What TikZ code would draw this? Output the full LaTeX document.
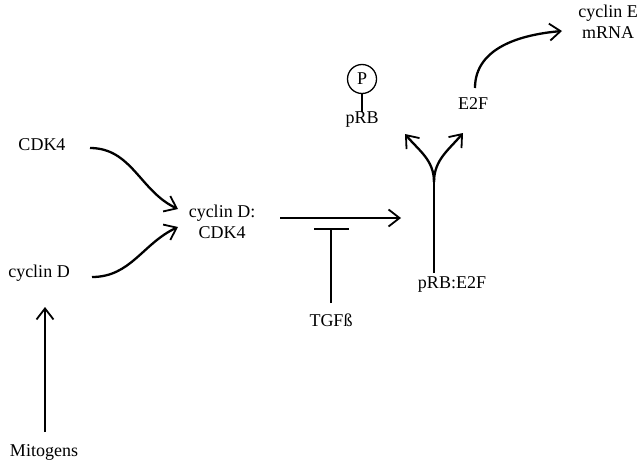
\documentclass[tikz,border=0pt]{standalone}
\usepackage{fontspec}
\setmainfont{Liberation Serif}
\usetikzlibrary{arrows.meta}
\begin{document}
\begin{tikzpicture}[x=1pt,y=-1pt,
  lbl/.style={inner sep=0pt, font=\fontsize{18}{21}\selectfont, align=center},
  arr/.style={line width=2.3pt, -{Straight Barb[length=11pt,width=17pt,line width=1.8pt]}},
  sarr/.style={line width=1.7pt, -{Straight Barb[length=11pt,width=17pt,line width=1.8pt]}},
  inh/.style={line width=1.5pt}]
\useasboundingbox (0,0) rectangle (644,463);
% texts
\node[lbl] (cdk) at (42,145) {CDK4};
\node[lbl] (cycd) at (39,273) {cyclin D};
\node[lbl] (cplx) at (222,222) {cyclin D:\\CDK4};
\node[lbl] (tgf) at (331,320) {TGFß};
\node[lbl] (prbe) at (452,284) {pRB:E2F};
\node[lbl] (e2f) at (473,104) {E2F};
\node[lbl] (cyce) at (608,22) {cyclin E\\mRNA};
\node[lbl] (mito) at (44,452) {Mitogens};
\node[lbl] (prb) at (362,120) {pRB};
\node[circle, draw, line width=1.3pt, minimum size=29pt, inner sep=0pt, font=\fontsize{18}{21}\selectfont] (P) at (362,79) {P};
% coordinates
\coordinate (a1s) at (90,148);
\coordinate (a1e) at (178,209);
\coordinate (a2s) at (92,277);
\coordinate (a2e) at (178,227);
\coordinate (hs) at (280,218);
\coordinate (he) at (401,218);
\coordinate (bar) at (331,229);
\coordinate (tgft) at (331,303);
\coordinate (stem) at (434,182);
\coordinate (stemb) at (434,273);
\coordinate (fl) at (405,134);
\coordinate (fr) at (463,133);
\coordinate (es) at (475,88);
\coordinate (ee) at (562,31);
\coordinate (ms) at (45,432);
\coordinate (me) at (45,307);
% connectors
\draw[arr] (a1s) to[out=0,in=155] (a1e);
\draw[arr] (a2s) to[out=0,in=205] (a2e);
\draw[sarr] (hs) -- (he);
\draw[inh] (tgft) -- (bar);
\draw[inh] ([xshift=-17pt]bar) -- ([xshift=18pt]bar);
\draw[line width=2pt] (stemb) -- (stem);
\draw[arr] (stem) to[out=90,in=-50] (fl);
\draw[arr] (stem) to[out=90,in=230] (fr);
\draw[arr] (es) to[out=90,in=185] (ee);
\draw[sarr] (ms) -- (me);
\draw[line width=1.3pt] (P.south) -- (P.south |- prb.north);
\end{tikzpicture}
\end{document}
